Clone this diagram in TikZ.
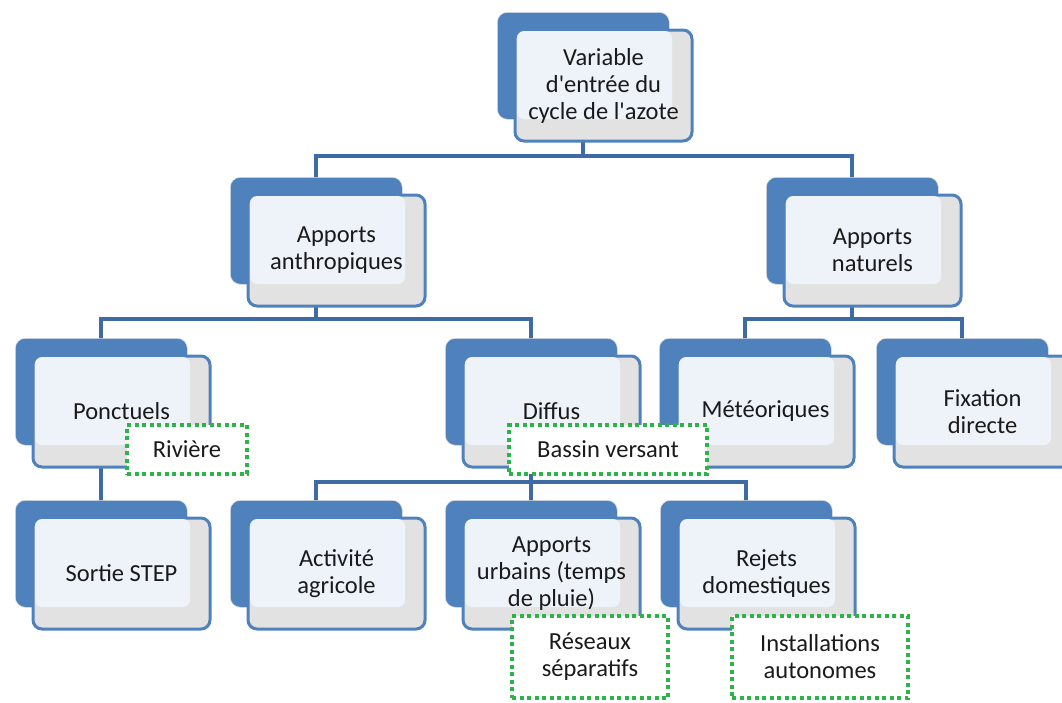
\documentclass[tikz,border=0pt]{standalone}
\usepackage{fontspec}
\setmainfont{Carlito}[Ligatures=TeXOff]
\definecolor{bblue}{HTML}{4F81BD}
\definecolor{lblue}{HTML}{3F6BA4}
\definecolor{gfill}{HTML}{E2E2E2}
\definecolor{lfill}{HTML}{EEF2F9}
\definecolor{gdot}{HTML}{2DB34A}
\definecolor{txt}{HTML}{1A1A1A}
\tikzset{
  backbox/.style={draw=gray!25, line width=0.6pt, fill=bblue, rounded corners=10pt,
    minimum width=172pt, minimum height=107pt, anchor=north west, inner sep=0pt},
  frontbox/.style={draw=bblue, line width=3pt, fill=gfill, rounded corners=9pt,
    minimum width=177pt, minimum height=111pt, anchor=north west, inner sep=0pt},
  lightarea/.style={fill=lfill, rounded corners=7pt},
  lbl/.style={align=center, text=txt, font=\fontsize{24.5}{27}\selectfont, inner sep=0pt},
  gbox/.style={draw=gdot, fill=white, line width=4pt, dash pattern=on 4pt off 3.5pt,
    anchor=north west, inner sep=0pt, align=center, text=txt,
    font=\fontsize{24.5}{27}\selectfont},
  conn/.style={draw=lblue, line width=4.5pt}
}
\newcommand\orgbox[4]{%
  \node[backbox] (#1b) at (#2,#3) {};
  \node[frontbox] (#1f) at (#2+16.5,#3+16.5) {};
  \fill[lightarea] (#2+20,#3+19) rectangle (#2+175,#3+107);
  \node[lbl] (#1) at (#1f.center) {#4};
}
\begin{document}
\begin{tikzpicture}[x=1pt,y=-1pt]
\useasboundingbox (0,0) rectangle (1062,702);
\clip (0,0) rectangle (1062,702);
% connector levels
\coordinate (h1) at (0,156);
\coordinate (h2) at (0,319);
\coordinate (h3) at (0,482);
\foreach \n/\x/\y in {var/497/12, anth/230/177, nat/766/177, pon/15/338, dif/445/338,
  met/659/338, fix/876/338, sor/15/500, act/230/500, urb/445/500, rej/660/500}
  {\coordinate (\n c) at (\x+86,\y+53);}
% connectors
\draw[conn] (varc) -- (varc |- h1) -| (anthc);
\draw[conn] (varc |- h1) -| (natc);
\draw[conn] (anthc) -- (anthc |- h2) -| (ponc);
\draw[conn] (anthc |- h2) -| (difc);
\draw[conn] (natc) -- (natc |- h2) -| (metc);
\draw[conn] (natc |- h2) -| (fixc);
\draw[conn] (ponc) -- (sorc);
\draw[conn] (difc) -- (difc |- h3) -| (actc);
\draw[conn] (difc |- h3) -| (urbc);
\draw[conn] (difc |- h3) -| (rejc);
% boxes
\orgbox{var}{497}{12}{Variable\\d'entrée du\\cycle de l'azote}
\orgbox{anth}{230}{177}{Apports\\anthropiques}
\orgbox{nat}{766}{177}{Apports\\naturels}
\orgbox{pon}{15}{338}{Ponctuels}
\orgbox{dif}{445}{338}{Diffus}
\orgbox{met}{659}{338}{Météoriques}
\orgbox{fix}{876}{338}{Fixation\\directe}
\orgbox{sor}{15}{500}{Sortie STEP}
\orgbox{act}{230}{500}{Activité\\agricole}
\orgbox{urb}{445}{500}{Apports\\urbains (temps\\de pluie)}
\orgbox{rej}{660}{500}{Rejets\\domestiques}
% dotted green boxes
\node[gbox, minimum width=120pt, minimum height=49pt] (riv) at (125,423) {Rivière};
\node[gbox, minimum width=198pt, minimum height=49pt] (bas) at (507,423) {Bassin versant};
\node[gbox, minimum width=156pt, minimum height=82pt] (res) at (510,614) {Réseaux\\séparatifs};
\node[gbox, minimum width=176pt, minimum height=82pt] (ins) at (730,614) {Installations\\autonomes};
\end{tikzpicture}
\end{document}
